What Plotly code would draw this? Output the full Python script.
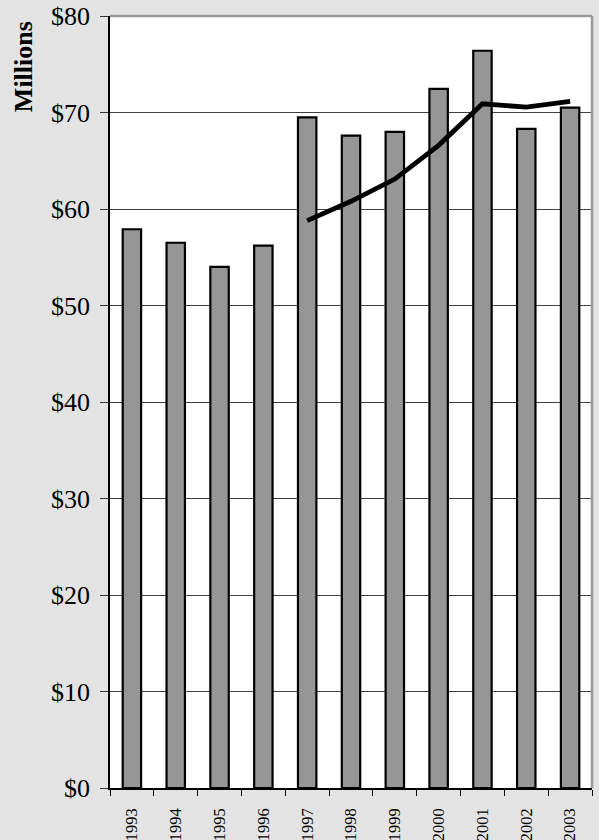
import plotly.graph_objects as go

years = ["1993", "1994", "1995", "1996", "1997", "1998", "1999", "2000", "2001", "2002", "2003"]
bar_values = [57.9, 56.5, 54.0, 56.2, 69.5, 67.6, 68.0, 72.45, 76.4, 68.3, 70.5]
line_years = ["1997", "1998", "1999", "2000", "2001", "2002", "2003"]
line_values = [58.8, 60.8, 63.1, 66.6, 70.9, 70.55, 71.15]
y_ticks = [0, 10, 20, 30, 40, 50, 60, 70, 80]
y_tick_labels = ["$0", "$10", "$20", "$30", "$40", "$50", "$60", "$70", "$80"]

font_family = "Liberation Serif, Times New Roman, serif"

fig = go.Figure()
fig.add_trace(go.Bar(
    x=years, y=bar_values,
    marker=dict(color="#969696", line=dict(color="#000000", width=2.2)),
    width=0.42,
    showlegend=False,
))
fig.add_trace(go.Scatter(
    x=line_years, y=line_values, mode="lines",
    line=dict(color="#000000", width=4.8),
    showlegend=False,
))

fig.update_layout(
    width=599, height=840,
    paper_bgcolor="#e3e3e3",
    plot_bgcolor="#ffffff",
    margin=dict(l=110, r=7, t=16, b=52, autoexpand=False),
    font=dict(family=font_family, color="#000000"),
    xaxis=dict(
        type="category",
        tickangle=-90,
        tickfont=dict(size=16.5, family=font_family),
        ticks="outside", ticklen=6, tickcolor="#000000", tickwidth=1,
        tickson="boundaries",
        ticklabelstandoff=12,
        showline=True, linecolor="#000000", linewidth=1.5,
        showgrid=False,
        range=[-0.5, 10.5],
    ),
    yaxis=dict(
        range=[0, 80],
        tickvals=y_ticks, ticktext=y_tick_labels,
        tickfont=dict(size=26, family=font_family),
        ticks="outside", ticklen=8, tickcolor="#333333", tickwidth=1,
        ticklabelstandoff=5,
        showline=True, linecolor="#000000", linewidth=1.5,
        showgrid=True, gridcolor="#404040", gridwidth=1,
        zeroline=False,
    ),
    annotations=[dict(
        text="<b>Millions</b>", textangle=-90,
        xref="paper", yref="paper",
        x=-0.178, y=0.934, xanchor="center", yanchor="middle",
        showarrow=False, font=dict(size=26, family=font_family),
    )],
    shapes=[
        dict(type="line", xref="paper", yref="paper", x0=0, x1=1, y0=1, y1=1,
             line=dict(color="#999999", width=2.5)),
        dict(type="line", xref="paper", yref="paper", x0=1, x1=1, y0=0, y1=1,
             line=dict(color="#999999", width=2.5)),
    ],
)

fig.write_html(
    "out.html",
    config={"displayModeBar": False},
    post_script="document.body.style.margin='0';document.body.style.overflow='hidden';",
)
